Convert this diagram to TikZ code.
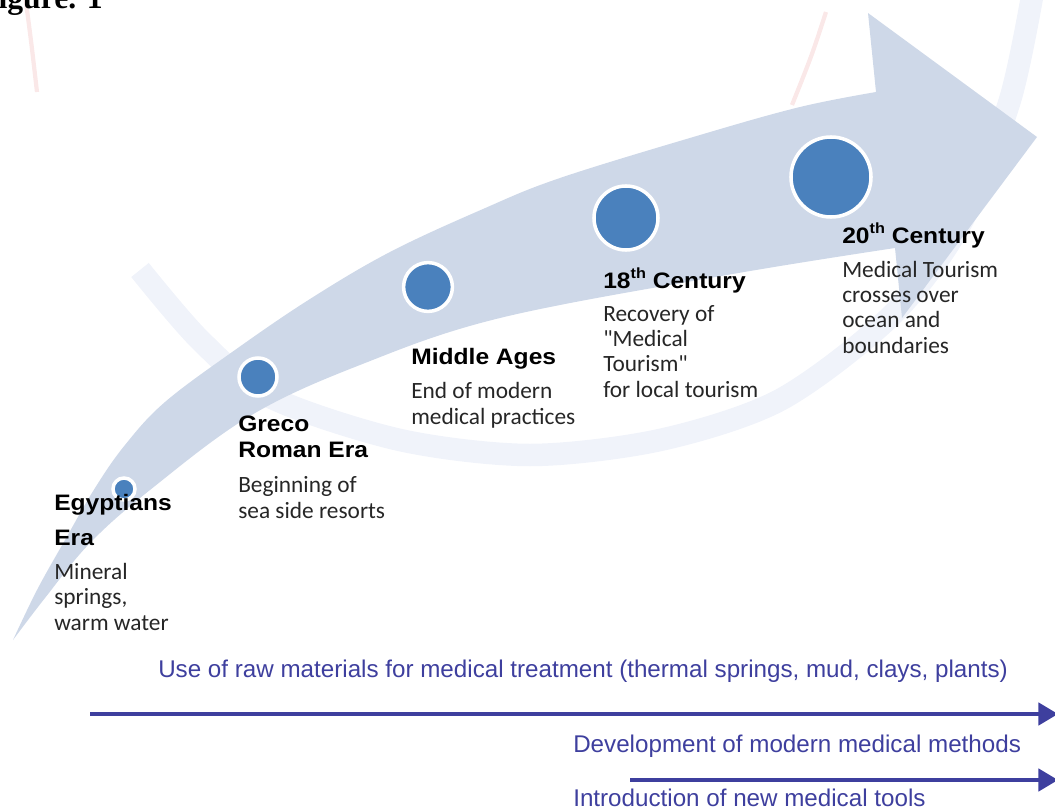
\documentclass[tikz,border=0pt]{standalone}
\usepackage{fontspec}
\setmainfont{Carlito}
\newfontfamily\headfont[FakeStretch=1.1]{Liberation Sans}
\newfontfamily\notefont{Liberation Sans}
\newfontfamily\capfont{Liberation Serif}
\usetikzlibrary{arrows.meta,positioning}
\definecolor{ArrowBlue}{HTML}{CED8E8}
\definecolor{DotBlue}{HTML}{4A81BD}
\definecolor{RingBlue}{HTML}{F0F3FA}
\definecolor{RingPink}{HTML}{FAE8E8}
\definecolor{NoteBlue}{HTML}{3E3F9E}
\definecolor{BodyGray}{HTML}{262626}
\newcommand{\thsup}{\raisebox{0.42em}{\fontsize{10.5}{10}\selectfont th}}

\begin{document}
\begin{tikzpicture}[x=0.025cm,y=-0.025cm,
  dot/.style={circle,draw=white,line width=2.5pt,fill=DotBlue,inner sep=0pt},
  era/.style={anchor=base west,inner sep=0pt,align=left,font=\headfont\bfseries\fontsize{15.9}{17.8}\selectfont},
  desc/.style={anchor=base west,inner sep=0pt,align=left,text=BodyGray,font=\fontsize{16.6}{17.8}\selectfont},
  note/.style={anchor=base west,inner sep=0pt,text=NoteBlue,font=\notefont\fontsize{17.2}{20}\selectfont},
  timeline/.style={draw=NoteBlue,line width=2.5pt,-{Triangle[length=14pt,width=16pt]}}
]
\useasboundingbox (0,0) rectangle (1055,809);
\clip (0,0) rectangle (1055,809);

\draw[RingPink,line width=3pt] (25,-5) .. controls (31,40) .. (37,92);
\draw[RingPink,line width=3pt] (826,12) .. controls (812,55) .. (792,105);
\draw[RingBlue,line width=16pt] plot[smooth] coordinates {(140,270) (200,340) (270,397) (400,440) (530,455) (660,440) (780,400) (890,317) (960,225) (1010,100) (1035,-20)};

\fill[ArrowBlue] plot[smooth,tension=0.6] coordinates {(13,640) (37,590) (65,540) (95,488) (125,445) (165,402) (235,350) (310,299) (390,252) (483,209) (560,178) (700,135) (800,107) (876,92)}
  -- (868,13) -- (1037,137) -- (902,318) -- (895,248)
  -- plot[smooth,tension=0.6] coordinates {(895,248) (727,275) (500,318) (360,365) (250,416) (150,490) (90,543) (45,598) (13,640)} -- cycle;

\node[dot,minimum size=0.55cm] (egypt) at (124,489) {};
\node[dot,minimum size=0.95cm] (greco) at (258,377) {};
\node[dot,minimum size=1.22cm] (middle) at (428,287) {};
\node[dot,minimum size=1.6cm] (c18) at (626,218) {};
\node[dot,minimum size=2cm] (c20) at (831,177) {};

\node[era] (egyptH) at (54,545) {Egyptians\\[7pt]Era};
\node[desc] (egyptD) at (54,630) {Mineral\\springs,\\warm water};
\node[era] (grecoH) at (238,457) {Greco\\Roman Era};
\node[desc] (grecoD) at (238,518) {Beginning of\\sea side resorts};
\node[era] (middleH) at (411,364) {Middle Ages};
\node[desc] (middleD) at (411,424) {End of modern\\medical practices};
\node[era] (c18H) at (603,288) {18\thsup\ Century};
\node[desc] (c18D) at (603,397) {Recovery of\\\textquotedbl Medical\\Tourism\textquotedbl\\for local tourism};
\node[era] (c20H) at (842,243) {20\thsup\ Century};
\node[desc] (c20D) at (842,353) {Medical Tourism\\crosses over\\ocean and\\boundaries};

\node[note] (rawNote) at (158,677) {Use of raw materials for medical treatment (thermal springs, mud, clays, plants)};
\coordinate (rawStart) at (90,714);
\coordinate (rawEnd) at (1058,714);
\draw[timeline] (rawStart) -- (rawEnd);
\node[note] (methodNote) at (573,752) {Development of modern medical methods};
\coordinate (toolStart) at (630,780);
\coordinate (toolEnd) at (1058,780);
\draw[timeline] (toolStart) -- (toolEnd);
\node[note] (toolNote) at (573,806) {Introduction of new medical tools};

\node[anchor=base west,inner sep=0pt,font=\capfont\bfseries\fontsize{22.5}{24}\selectfont] (figCap) at (-21,8) {Figure. 1};
\end{tikzpicture}
\end{document}
